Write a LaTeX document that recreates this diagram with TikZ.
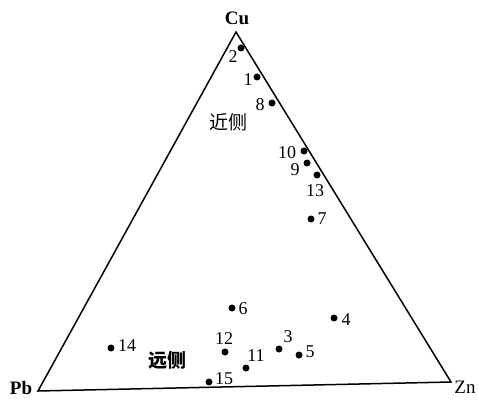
\documentclass[tikz,border=0pt]{standalone}
\usepackage{fontspec}
\setmainfont{Liberation Serif}
\newfontfamily\cjk{Noto Sans CJK SC}
\begin{document}
\begin{tikzpicture}[x=1pt,y=-1pt,
  dot/.style={circle,fill=black,inner sep=0pt,minimum size=7pt},
  lbl/.style={inner sep=0pt,font=\fontsize{18}{18}\selectfont},
  corner/.style={inner sep=0pt,font=\fontsize{19}{19}\selectfont\bfseries},
  zone/.style={inner sep=0pt,font=\fontsize{19}{19}\selectfont\cjk}]
\useasboundingbox (0,0) rectangle (478,403);
\coordinate (cu) at (236,32);
\coordinate (pb) at (38,391);
\coordinate (zn) at (451,382);
\draw[line width=1.5pt,line join=miter] (cu) -- (pb) -- (zn) -- cycle;
\node[corner] (lcu) at (237,18) {Cu};
\node[corner] (lpb) at (21,388) {Pb};
\node[corner,font=\fontsize{19}{19}\selectfont] (lzn) at (465,387) {Zn};
% points
\node[dot] (p1) at (257,77) {};   \node[lbl] at (248,80) {1};
\node[dot] (p2) at (241,48) {};   \node[lbl] at (233,57) {2};
\node[dot] (p3) at (279,349) {};  \node[lbl] at (288,337) {3};
\node[dot] (p4) at (334,318) {};  \node[lbl] at (346,320) {4};
\node[dot] (p5) at (299,355) {};  \node[lbl] at (310,352) {5};
\node[dot] (p6) at (232,308) {};  \node[lbl] at (243,309) {6};
\node[dot] (p7) at (311,219) {};  \node[lbl] at (322,219) {7};
\node[dot] (p8) at (272,103) {};  \node[lbl] at (260,105) {8};
\node[dot] (p9) at (307,163) {};  \node[lbl] at (295,170) {9};
\node[dot] (p10) at (304,151) {}; \node[lbl] at (287,153) {10};
\node[dot] (p11) at (246,368) {}; \node[lbl] at (256,356) {11};
\node[dot] (p12) at (225,352) {}; \node[lbl] at (224,339) {12};
\node[dot] (p13) at (317,175) {}; \node[lbl] at (315,191) {13};
\node[dot] (p14) at (111,348) {}; \node[lbl] at (127,346) {14};
\node[dot] (p15) at (209,382) {}; \node[lbl] at (224,379) {15};
\node[zone] (near) at (228,122) {近侧};
\node[zone,font=\fontsize{19}{19}\selectfont\cjk\bfseries] (far) at (167,360) {远侧};
\end{tikzpicture}
\end{document}
